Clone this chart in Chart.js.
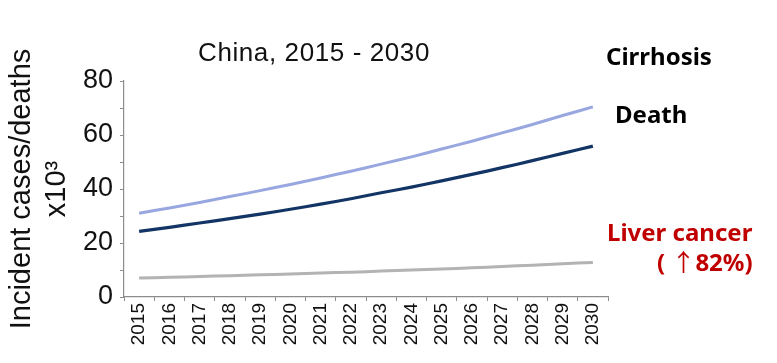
<!DOCTYPE html>
<html>
<head>
<meta charset="utf-8">
<script src="https://cdn.jsdelivr.net/npm/chart.js@4/dist/chart.umd.min.js"></script>
<style>
  html, body { margin: 0; padding: 0; background: #fff; }
  #wrap { position: relative; width: 777px; height: 363px; overflow: hidden; }
  canvas { position: absolute; left: 0; top: 0; }
  .lbl { position: absolute; white-space: pre; line-height: 1; }
  #title { font-family: "Liberation Sans", Arial, sans-serif; font-size: 26px; color: #111; letter-spacing: 0.6px; left: 198px; top: 39px; }
  .side { font-family: "Noto Sans", sans-serif; font-weight: 700; font-size: 24px; }
  .arrow { font-family: "Noto Sans CJK KR", sans-serif; font-weight: 400; }
</style>
</head>
<body>
<div id="wrap">
  <canvas id="c" width="777" height="363"></canvas>
  <div id="title" class="lbl">China, 2015 - 2030</div>
  <div class="lbl side" style="left:606px; top:44px; color:#000;">Cirrhosis</div>
  <div class="lbl side" style="left:615px; top:102px; color:#000;">Death</div>
  <div class="lbl side" style="left:607px; top:220px; color:#C00000;">Liver cancer</div>
  <div class="lbl side" style="left:657px; top:249px; color:#C00000;">( <span class="arrow">↑</span>82%)</div>
</div>
<script>
const years = ['2015','2016','2017','2018','2019','2020','2021','2022','2023','2024','2025','2026','2027','2028','2029','2030'];
const cirrhosis = [31.0, 33.0, 35.0, 37.2, 39.4, 41.7, 44.1, 46.6, 49.2, 51.9, 54.8, 57.7, 60.8, 63.9, 67.2, 70.4];
const death = [24.3, 25.8, 27.4, 29.0, 30.7, 32.5, 34.4, 36.4, 38.6, 40.7, 43.0, 45.4, 47.9, 50.5, 53.2, 55.9];
const liverCancer = [7.0, 7.3, 7.6, 7.9, 8.2, 8.5, 8.9, 9.2, 9.6, 10.0, 10.4, 10.8, 11.3, 11.8, 12.3, 12.8];
const yTickLabels = ['0', '20', '40', '60', '80'];
const yAxisTitle = ['Incident cases/deaths', 'x10³'];

const axisGray = '#8c8c8c';
const ff = '"Liberation Sans", Arial, sans-serif';

new Chart(document.getElementById('c'), {
  type: 'line',
  data: {
    labels: years,
    datasets: [
      { label: 'Liver cancer', data: liverCancer, borderColor: '#b3b3b3', borderWidth: 3, pointRadius: 0, tension: 0.3, fill: false },
      { label: 'Cirrhosis', data: cirrhosis, borderColor: '#98a7e0', borderWidth: 3, pointRadius: 0, tension: 0.3, fill: false },
      { label: 'Death', data: death, borderColor: '#133566', borderWidth: 3.2, pointRadius: 0, tension: 0.3, fill: false }
    ]
  },
  options: {
    responsive: false,
    animation: false,
    layout: { padding: { left: 0, right: 169, top: 81, bottom: 0 } },
    plugins: { legend: { display: false }, tooltip: { enabled: false }, title: { display: false } },
    scales: {
      x: {
        offset: true,
        grid: { display: true, drawOnChartArea: false, drawTicks: true, tickLength: 4, color: axisGray, offset: true },
        border: { display: true, color: axisGray, width: 1.2 },
        ticks: { color: '#111', font: { family: ff, size: 19 }, maxRotation: 90, minRotation: 90, autoSkip: false, padding: 2 },
        afterFit: (s) => { s.height = 66; }
      },
      y: {
        min: 0, max: 80,
        grid: { display: true, drawOnChartArea: false, drawTicks: true, tickLength: 4, color: axisGray },
        border: { display: true, color: axisGray, width: 1.2 },
        ticks: {
          stepSize: 10, autoSkip: false, color: '#111', padding: 7,
          font: { family: ff, size: 27 },
          callback: (v) => { const s = String(v); return yTickLabels.includes(s) ? s : ''; }
        },
        title: {
          display: true, text: yAxisTitle, color: '#111',
          font: { family: ff, size: 29, lineHeight: 1.2 },
          padding: { top: 5, bottom: 0 }
        },
        afterFit: (s) => { s.width = 124; }
      }
    }
  }
});
</script>
</body>
</html>
